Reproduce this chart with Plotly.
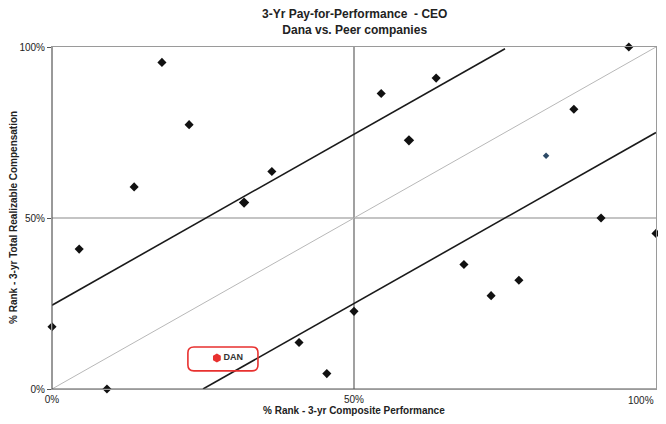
import plotly.graph_objects as go

# Peer companies: % rank performance (x) and % rank realizable comp (y)
peer_perf = [0.0, 4.5, 9.1, 13.6, 18.2, 22.7, 31.8, 36.4, 40.9, 45.5, 50.0,
             54.5, 59.1, 63.6, 68.2, 72.7, 77.3, 81.8, 86.4, 90.9, 95.5, 100.0]
peer_comp = [18.2, 40.9, 0.0, 59.1, 95.5, 77.3, 54.5, 63.6, 13.6, 4.5, 22.7,
             86.4, 72.7, 90.9, 36.4, 27.3, 31.8, 68.2, 81.8, 50.0, 100.0, 45.5]
dan_perf = [27.3]
dan_comp = [9.1]
dan_label = "DAN"

upper_x = [0, 75]
upper_y = [24.5, 99.5]
lower_x = [25, 100]
lower_y = [0, 75]
diag_x = [0, 100]
diag_y = [0, 100]
tick_vals = [0, 50, 100]
tick_text = ["0%", "50%", "100%"]

# marker styling (one peer drawn smaller / bluish as in the source)
peer_sizes = [7] * len(peer_perf)
peer_colors = ["#111111"] * len(peer_perf)
peer_sizes[17] = 5
peer_colors[17] = "#2c4a66"
peer_sizes[6] = 8
peer_sizes[12] = 8

fig = go.Figure()

# midlines
fig.add_shape(type="line", x0=50, x1=50, y0=0, y1=100, xref="x", yref="y",
              line=dict(color="#6e6e6e", width=1.3), layer="below")
fig.add_shape(type="line", x0=0, x1=100, y0=50, y1=50, xref="x", yref="y",
              line=dict(color="#8a8a8a", width=1.2), layer="below")

fig.add_trace(go.Scatter(x=diag_x, y=diag_y, mode="lines",
                         line=dict(color="#b8b8b8", width=1),
                         hoverinfo="skip"))
fig.add_trace(go.Scatter(x=upper_x, y=upper_y, mode="lines",
                         line=dict(color="#1a1a1a", width=1.6), hoverinfo="skip"))
fig.add_trace(go.Scatter(x=lower_x, y=lower_y, mode="lines",
                         line=dict(color="#1a1a1a", width=1.6), hoverinfo="skip"))

fig.add_trace(go.Scatter(x=peer_perf, y=peer_comp, mode="markers",
                         marker=dict(symbol="diamond", size=peer_sizes, color=peer_colors,
                                     opacity=1, line=dict(width=0)),
                         cliponaxis=False))

fig.add_trace(go.Scatter(x=dan_perf, y=dan_comp, mode="markers+text",
                         marker=dict(symbol="hexagon", size=9, color="#e8312f",
                                     line=dict(width=0)),
                         text=["<b>" + dan_label + "</b>"], textposition="middle right",
                         textfont=dict(family="Liberation Sans", size=9, color="#333333"),
                         cliponaxis=False))

# rounded red box around DAN
bx0, bx1 = dan_perf[0] - 4.8, dan_perf[0] + 6.8
by0, by1 = dan_comp[0] - 3.8, dan_comp[0] + 3.2
rx, ry = 1.0, 1.7
path = (f"M {bx0+rx},{by0} L {bx1-rx},{by0} Q {bx1},{by0} {bx1},{by0+ry} "
        f"L {bx1},{by1-ry} Q {bx1},{by1} {bx1-rx},{by1} L {bx0+rx},{by1} "
        f"Q {bx0},{by1} {bx0},{by1-ry} L {bx0},{by0+ry} Q {bx0},{by0} {bx0+rx},{by0} Z")
fig.add_shape(type="path", path=path, xref="x", yref="y",
              line=dict(color="#e8312f", width=1.6))

# page body has an 8px default margin: figure spans 8..658 x 8..416 of the window
fig.update_layout(
    width=650, height=408,
    margin=dict(l=44, r=2, t=39, b=27),
    paper_bgcolor="white", plot_bgcolor="white",
    showlegend=False,
    font=dict(family="Liberation Sans", size=10, color="#222222"),
)
fig.add_annotation(text="<b>3-Yr Pay-for-Performance  - CEO<br>Dana vs. Peer companies</b>",
                   xref="paper", yref="paper", x=0.5, y=1.0, yshift=42,
                   xanchor="center", yanchor="top", showarrow=False,
                   font=dict(family="Liberation Sans", size=12, color="#222222"))
fig.add_annotation(text="<b>% Rank - 3-yr Composite Performance</b>",
                   xref="paper", yref="paper", x=0.5, y=0, yshift=-21,
                   xanchor="center", yanchor="middle", showarrow=False,
                   font=dict(family="Liberation Sans", size=10, color="#222222"))
fig.add_annotation(text="<b>% Rank - 3-yr Total Realizable Compensation</b>",
                   xref="paper", yref="paper", x=0, y=0.5, xshift=-39, textangle=-90,
                   xanchor="center", yanchor="middle", showarrow=False,
                   font=dict(family="Liberation Sans", size=10, color="#222222"))
# last x tick label is right-aligned to the plot edge
fig.add_annotation(text=tick_text[2], xref="x", yref="paper", x=tick_vals[2], y=0,
                   yshift=-11, xanchor="right", yanchor="middle", showarrow=False,
                   font=dict(family="Liberation Sans", size=10, color="#222222"))

fig.update_xaxes(range=[0, 100], tickvals=tick_vals, ticktext=tick_text[:2] + [""],
                 showgrid=False, zeroline=False, showline=True, linecolor="#9a9a9a",
                 linewidth=1, mirror=True, ticks="outside", ticklen=1, tickcolor="white",
                 automargin=False,
                 tickfont=dict(size=10, color="#222222"))
fig.update_yaxes(range=[0, 100], tickvals=tick_vals, ticktext=tick_text,
                 showgrid=False, zeroline=False, showline=True, linecolor="#9a9a9a",
                 linewidth=1, mirror=True, ticks="outside", ticklen=4, tickcolor="#555555",
                 automargin=False,
                 tickfont=dict(size=10, color="#222222"))

# darker left and bottom axes
fig.add_shape(type="line", x0=0, x1=0, y0=0, y1=100, xref="x", yref="y",
              line=dict(color="#555555", width=1.2))
fig.add_shape(type="line", x0=0, x1=100, y0=0, y1=0, xref="x", yref="y",
              line=dict(color="#555555", width=1.2))

fig.write_html("out.html")
